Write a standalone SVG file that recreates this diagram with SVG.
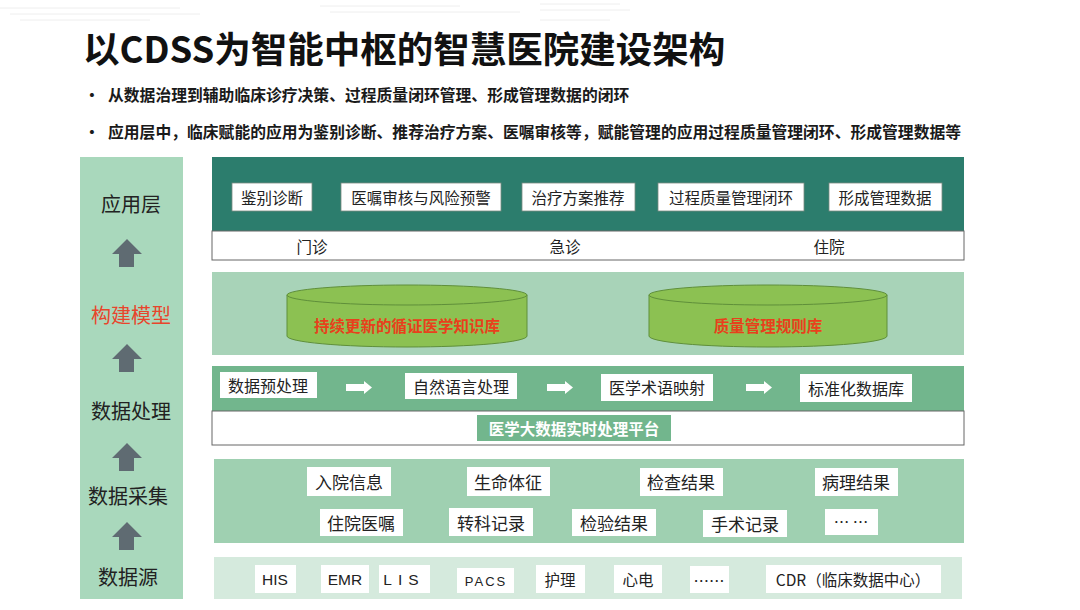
<svg xmlns="http://www.w3.org/2000/svg" width="1080" height="610" viewBox="0 0 1080 610">
<style>
text{font-family:"Noto Sans CJK SC","Noto Sans",sans-serif;}
.title{font-size:36.5px;font-weight:bold;fill:#111;}
.bul{font-size:15.8px;font-weight:bold;fill:#1a1a1a;}
.side{font-size:20px;fill:#222;text-anchor:middle;dominant-baseline:central;}
.box{fill:#fff;stroke:#7a8a80;stroke-width:0.8;}
.wbox{fill:#fff;}
.bt{font-size:15.5px;fill:#222;text-anchor:middle;dominant-baseline:central;}
.bt16{font-size:16px;fill:#222;text-anchor:middle;dominant-baseline:central;}
.bt2{font-size:17px;fill:#222;text-anchor:middle;dominant-baseline:central;}
.up{fill:#5f6b72;}
.cyl{fill:#8cc152;stroke:#5f8f3a;stroke-width:1;}
.cylt{font-size:15.5px;font-weight:bold;fill:#e8401c;text-anchor:middle;dominant-baseline:central;}
</style>
<rect width="1080" height="610" fill="#fff"/>
<g id="bg-deco" stroke="#eeeeee" stroke-width="1">
<line x1="0" y1="8" x2="180" y2="8"/><line x1="10" y1="14" x2="200" y2="14"/><line x1="20" y1="20" x2="150" y2="20"/>
<line x1="320" y1="6" x2="460" y2="6"/><line x1="330" y1="12" x2="520" y2="12"/>
<line x1="540" y1="4" x2="620" y2="4"/><line x1="540" y1="10" x2="630" y2="10"/><line x1="540" y1="20" x2="610" y2="20"/>
</g>
<g id="header">
<text class="title" x="83" y="63">以CDSS为智能中枢的智慧医院建设架构</text>
<text class="bul" x="84" y="101">•</text>
<text class="bul" x="108" y="101">从数据治理到辅助临床诊疗决策、过程质量闭环管理、形成管理数据的闭环</text>
<text class="bul" x="84" y="138">•</text>
<text class="bul" x="108" y="138">应用层中，临床赋能的应用为鉴别诊断、推荐治疗方案、医嘱审核等，赋能管理的应用过程质量管理闭环、形成管理数据等</text>
</g>
<g id="left-column">
<rect x="80" y="157" width="103" height="442" fill="#a9d8bc"/>
<text class="side" x="131" y="203">应用层</text>
<text class="side" x="131" y="314" style="fill:#e8452c">构建模型</text>
<text class="side" x="131" y="410">数据处理</text>
<text class="side" x="128" y="495">数据采集</text>
<text class="side" x="128" y="576">数据源</text>
<path class="up" d="M127 239 L142 254 L134 254 L134 267 L119 267 L119 254 L112 254 Z"/>
<path class="up" d="M127 344 L142 359 L134 359 L134 372 L119 372 L119 359 L112 359 Z"/>
<path class="up" d="M127 443 L142 458 L134 458 L134 471 L119 471 L119 458 L112 458 Z"/>
<path class="up" d="M127 522 L142 537 L134 537 L134 550 L119 550 L119 537 L112 537 Z"/>
</g>
<g id="app-layer">
<rect x="212" y="157" width="752" height="74" fill="#2c7d6d"/>
<rect x="212" y="231" width="752" height="29" fill="#fff" stroke="#666" stroke-width="1"/>
<rect class="box" x="232" y="183" width="80" height="28"/><text class="bt" x="272" y="197">鉴别诊断</text>
<rect class="box" x="341" y="183" width="160" height="28"/><text class="bt" x="421" y="197">医嘱审核与风险预警</text>
<rect class="box" x="522" y="183" width="113" height="28"/><text class="bt" x="578" y="197">治疗方案推荐</text>
<rect class="box" x="658" y="183" width="146" height="28"/><text class="bt" x="731" y="197">过程质量管理闭环</text>
<rect class="box" x="829" y="183" width="113" height="28"/><text class="bt" x="885" y="197">形成管理数据</text>
<text class="bt" x="312" y="246">门诊</text>
<text class="bt" x="565" y="246">急诊</text>
<text class="bt" x="829" y="246">住院</text>
</g>
<g id="model-layer">
<rect x="212" y="272" width="752" height="83" fill="#a8d3b8"/>
<g id="kb1">
<path class="cyl" d="M287 295 L287 336 A120 11 0 0 0 527 336 L527 295"/>
<ellipse class="cyl" cx="407" cy="295" rx="120" ry="10"/>
<text class="cylt" x="407" y="325">持续更新的循证医学知识库</text>
</g>
<g id="kb2">
<path class="cyl" d="M649 295 L649 336 A119 11 0 0 0 887 336 L887 295"/>
<ellipse class="cyl" cx="768" cy="295" rx="119" ry="10"/>
<text class="cylt" x="768" y="325">质量管理规则库</text>
</g>
</g>
<g id="process-layer">
<rect x="212" y="366" width="752" height="45" fill="#72b68d"/>
<rect x="212" y="411" width="752" height="34" fill="#fff" stroke="#666" stroke-width="1"/>
<rect class="wbox" x="220" y="372" width="97" height="26"/><text class="bt16" x="268" y="385">数据预处理</text>
<rect class="wbox" x="405" y="373" width="112" height="26"/><text class="bt16" x="461" y="386">自然语言处理</text>
<rect class="wbox" x="601" y="374" width="112" height="27"/><text class="bt16" x="657" y="387">医学术语映射</text>
<rect class="wbox" x="800" y="374" width="112" height="28"/><text class="bt16" x="856" y="388">标准化数据库</text>
<rect x="477" y="415" width="194" height="26" fill="#72b68d"/>
<text class="bt" x="574" y="428" style="fill:#fff;font-weight:bold">医学大数据实时处理平台</text>
</g>
<g id="connectors" fill="#fff">
<path d="M346 384 L364 384 L364 381 L372 387.5 L364 394 L364 391 L346 391 Z"/>
<path d="M547 384 L565 384 L565 381 L573 387.5 L565 394 L565 391 L547 391 Z"/>
<path d="M746 384 L764 384 L764 381 L772 387.5 L764 394 L764 391 L746 391 Z"/>
</g>
<g id="collect-layer">
<rect x="214" y="459" width="750" height="84" fill="#9fd0b1"/>
<rect class="wbox" x="307" y="467" width="84" height="29"/><text class="bt2" x="349" y="481">入院信息</text>
<rect class="wbox" x="467" y="467" width="83" height="29"/><text class="bt2" x="508" y="481">生命体征</text>
<rect class="wbox" x="640" y="468" width="83" height="28"/><text class="bt2" x="681" y="481">检查结果</text>
<rect class="wbox" x="815" y="468" width="83" height="28"/><text class="bt2" x="856" y="481">病理结果</text>
<rect class="wbox" x="320" y="509" width="83" height="27"/><text class="bt2" x="361" y="522">住院医嘱</text>
<rect class="wbox" x="449" y="508" width="84" height="28"/><text class="bt2" x="491" y="522">转科记录</text>
<rect class="wbox" x="572" y="509" width="84" height="27"/><text class="bt2" x="614" y="522">检验结果</text>
<rect class="wbox" x="703" y="510" width="84" height="27"/><text class="bt2" x="745" y="523">手术记录</text>
<rect class="wbox" x="825" y="509" width="53" height="26"/><text class="bt" x="851" y="521">… …</text>
</g>
<g id="source-layer">
<rect x="214" y="557" width="748" height="42" fill="#d5eadd"/>
<rect class="wbox" x="255" y="565" width="41" height="28"/><text class="bt" x="275" y="579" style="font-family:'Liberation Sans',sans-serif">HIS</text>
<rect class="wbox" x="321" y="565" width="48" height="28"/><text class="bt" x="345" y="579" style="font-family:'Liberation Sans',sans-serif">EMR</text>
<rect class="wbox" x="379" y="565" width="51" height="28"/><text class="bt" x="404" y="579" style="font-family:'Liberation Sans',sans-serif;letter-spacing:6px">LIS</text>
<rect class="wbox" x="457" y="568" width="57" height="25"/><text class="bt" x="486" y="581" style="font-family:'Liberation Sans',sans-serif;font-size:13px;letter-spacing:2px">PACS</text>
<rect class="wbox" x="536" y="565" width="49" height="28"/><text class="bt" x="560" y="579">护理</text>
<rect class="wbox" x="614" y="565" width="48" height="28"/><text class="bt" x="638" y="579">心电</text>
<rect class="wbox" x="690" y="566" width="39" height="27"/><text class="bt" x="709" y="580">……</text>
<rect class="wbox" x="766" y="565" width="175" height="28"/><text class="bt" x="853" y="579">CDR（临床数据中心）</text>
</g>
</svg>
